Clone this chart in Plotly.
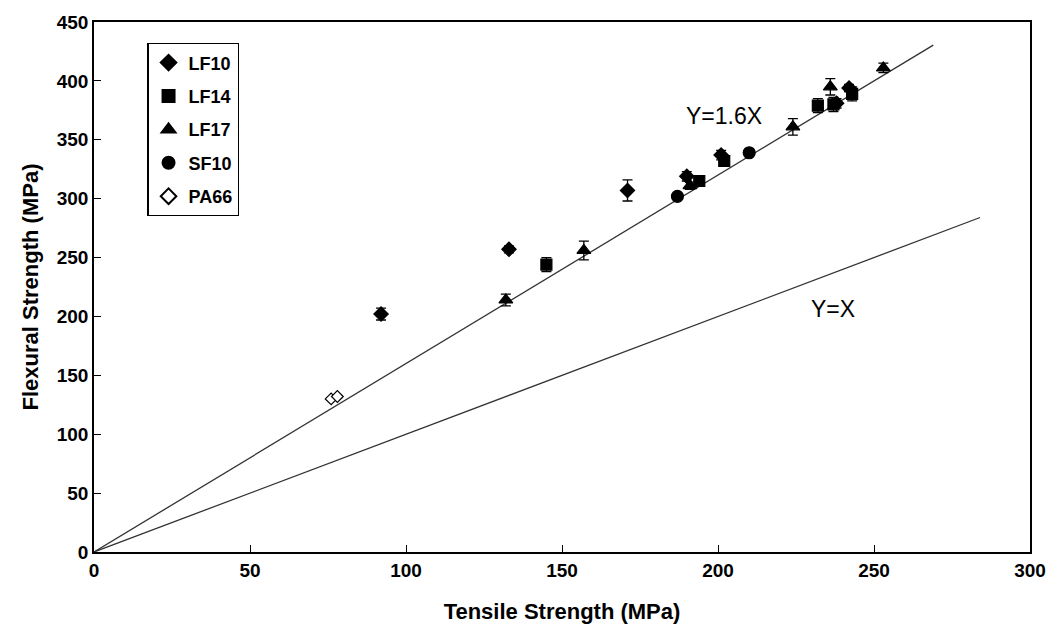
import plotly.graph_objects as go

# Data
lf10_x = [92, 133, 171, 190, 201, 238, 242]
lf10_y = [202, 257, 307, 319, 337, 381, 394]
lf10_err = [5, 3, 9, 4, 4, 4, 3]

lf14_x = [145, 194, 202, 232, 237, 243]
lf14_y = [244, 315, 332, 379, 380, 389]
lf14_err = [6, 3, 3, 6, 6, 6]

lf17_x = [132, 157, 191, 224, 236, 253]
lf17_y = [214, 256, 311, 361, 395, 411]
lf17_err = [5, 8, 3, 7, 7, 4]

sf10_x = [187, 210]
sf10_y = [302, 339]
sf10_err = [2, 2]

pa66_x = [76, 78]
pa66_y = [130, 132]
pa66_err = [1, 1]

line16_x = [0, 269]
line1_x = [0, 284]
slope_a = 1.6
slope_b = 1.0

FONT = "Arial, Liberation Sans"

fig = go.Figure()

def add_series(name, xs, ys, errs, symbol, size, fill="black"):
    fig.add_trace(go.Scatter(
        x=xs, y=ys, mode="markers", name=name, legendgroup=name,
        marker=dict(symbol=symbol, size=size, color=fill,
                    line=dict(color="black", width=1.2)),
        error_y=dict(type="data", array=errs, visible=True,
                     color="black", thickness=1.3, width=5),
    ))

fig.add_trace(go.Scatter(x=line16_x, y=[slope_a * v for v in line16_x],
                         mode="lines", line=dict(color="#333333", width=1.3),
                         showlegend=False, hoverinfo="skip"))
fig.add_trace(go.Scatter(x=line1_x, y=[slope_b * v for v in line1_x],
                         mode="lines", line=dict(color="#333333", width=1.3),
                         showlegend=False, hoverinfo="skip"))

add_series("LF10", lf10_x, lf10_y, lf10_err, "diamond", 11)
add_series("LF14", lf14_x, lf14_y, lf14_err, "square", 11)
add_series("LF17", lf17_x, lf17_y, lf17_err, "triangle-up", 12)
add_series("SF10", sf10_x, sf10_y, sf10_err, "circle", 12)
add_series("PA66", pa66_x, pa66_y, pa66_err, "diamond", 9, fill="white")

fig.add_annotation(x=202, y=370, text="Y=1.6X", showarrow=False,
                   font=dict(family=FONT, size=23, color="black"))
fig.add_annotation(x=237, y=206, text="Y=X", showarrow=False,
                   font=dict(family=FONT, size=23, color="black"))

axis_common = dict(
    showline=True, linecolor="black", linewidth=1.5, mirror=True,
    ticks="inside", ticklen=7, tickwidth=1.2, tickcolor="black",
    showgrid=False, zeroline=False,
    tickfont=dict(family=FONT, size=19, color="black", weight="bold"),
)

fig.update_layout(
    width=1058, height=635,
    paper_bgcolor="white", plot_bgcolor="white",
    margin=dict(l=94, r=23, t=22, b=83),
    xaxis=dict(range=[0, 300], dtick=50,
               title=dict(text="Tensile Strength (MPa)", standoff=24,
                          font=dict(family=FONT, size=22,
                                    color="black", weight="bold")),
               **axis_common),
    yaxis=dict(range=[0, 450], dtick=50,
               title=dict(text="Flexural Strength (MPa)", standoff=12,
                          font=dict(family=FONT, size=22,
                                    color="black", weight="bold")),
               **axis_common),
    legend=dict(x=0.057, y=0.96, xanchor="left", yanchor="top",
                bordercolor="black", borderwidth=1.2, bgcolor="white",
                font=dict(family=FONT, size=18, color="black", weight="bold"),
                itemsizing="constant", itemwidth=30, tracegroupgap=7),
    showlegend=True,
)

fig.write_html("out.html")
